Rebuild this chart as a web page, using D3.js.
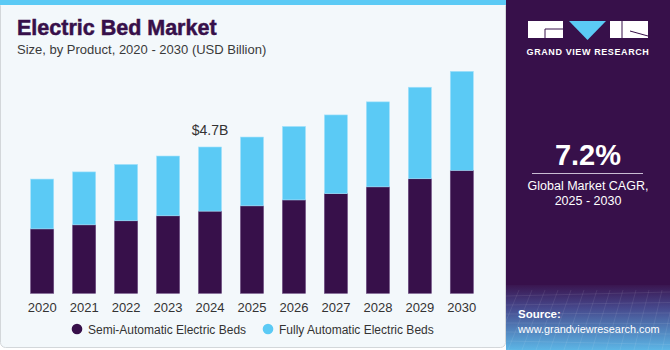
<!DOCTYPE html>
<html><head><meta charset="utf-8">
<script src="https://cdn.jsdelivr.net/npm/d3@7"></script>
<style>body{margin:0;background:#fff}svg{display:block}</style>
</head><body>
<svg id="c" width="670" height="350"></svg>
<script>
const years = ["2020","2021","2022","2023","2024","2025","2026","2027","2028","2029","2030"];
const semiAutomatic = [2.07,2.20,2.33,2.49,2.64,2.81,3.00,3.20,3.42,3.68,3.95];
const fullyAutomatic = [1.60,1.70,1.81,1.92,2.06,2.21,2.36,2.53,2.73,2.94,3.18];
const seriesNames = ["Semi-Automatic Electric Beds","Fully Automatic Electric Beds"];
const annotationYear = "2024";
const annotationText = "$4.7B";
const cagrText = "7.2%";

const purple = "#37104a", blue = "#5bcaf5";
const font = "'Liberation Sans', Arial, sans-serif";
const svg = d3.select("#c");

// left panel
svg.append("rect").attr("x",0.5).attr("y",0.5).attr("width",505).attr("height",347)
  .attr("rx",5).attr("fill","#f3f8fb").attr("stroke","#d3d7da");
svg.append("rect").attr("x",0).attr("y",0).attr("width",506).attr("height",5).attr("fill",blue);

// right panel
const defs = svg.append("defs");
const g1 = defs.append("linearGradient").attr("id","src").attr("x1",0).attr("y1",0).attr("x2",0).attr("y2",1);
g1.append("stop").attr("offset","0%").attr("stop-color","#3a1650");
g1.append("stop").attr("offset","35%").attr("stop-color","#46488c");
g1.append("stop").attr("offset","100%").attr("stop-color","#5cb6e6");
svg.append("rect").attr("x",506).attr("y",0).attr("width",164).attr("height",350).attr("fill",purple);
svg.append("rect").attr("x",506).attr("y",285).attr("width",164).attr("height",65).attr("fill","url(#src)");
const gridG = svg.append("g").attr("stroke","#ffffff").attr("stroke-opacity",0.12).attr("stroke-width",0.7);
for(let i=0;i<14;i++){ gridG.append("line").attr("x1",506+i*13).attr("y1",290).attr("x2",500+i*14-20).attr("y2",350); }
for(let j=0;j<7;j++){ gridG.append("line").attr("x1",506).attr("y1",296+j*9).attr("x2",670).attr("y2",292+j*9+j*1.5); }

// logo
const logo = svg.append("g");
logo.append("rect").attr("x",528).attr("y",21).attr("width",35).attr("height",17).attr("fill","#fff");
logo.append("path").attr("d","M545 29 h18 M545 29 v9").attr("stroke",purple).attr("stroke-width",1).attr("fill","none");
logo.append("path").attr("d","M569 21 L606 21 L587.5 40 Z").attr("fill",blue);
logo.append("rect").attr("x",610).attr("y",21).attr("width",38).attr("height",17).attr("fill","#fff");
logo.append("path").attr("d","M622 21 v17 M630 31 L648 36").attr("stroke",purple).attr("stroke-width",1).attr("fill","none");
svg.append("text").attr("x",588).attr("y",54.5).attr("text-anchor","middle")
  .attr("font-family",font).attr("font-weight","bold").attr("font-size",9).attr("letter-spacing",0.6)
  .attr("fill","#fff").text("GRAND VIEW RESEARCH");

// CAGR
svg.append("text").attr("x",588).attr("y",165).attr("text-anchor","middle").attr("font-family",font)
  .attr("font-weight","bold").attr("font-size",29).attr("fill","#fff").text(cagrText);
svg.append("line").attr("x1",532).attr("x2",643).attr("y1",173.5).attr("y2",173.5).attr("stroke","#c9bcd3").attr("stroke-width",1);
svg.append("text").attr("x",588).attr("y",190).attr("text-anchor","middle").attr("font-family",font)
  .attr("font-size",12.5).attr("fill","#fff").text("Global Market CAGR,");
svg.append("text").attr("x",588).attr("y",205).attr("text-anchor","middle").attr("font-family",font)
  .attr("font-size",12.5).attr("fill","#fff").text("2025 - 2030");

// source
svg.append("text").attr("x",518).attr("y",318).attr("font-family",font).attr("font-weight","bold")
  .attr("font-size",11.5).attr("fill","#fff").text("Source:");
svg.append("text").attr("x",518).attr("y",332.5).attr("font-family",font)
  .attr("font-size",10.9).attr("fill","#fff").text("www.grandviewresearch.com");

// title
svg.append("text").attr("x",17).attr("y",35).attr("font-family",font).attr("font-weight","900")
  .attr("font-size",21.5).attr("fill",purple).attr("stroke",purple).attr("stroke-width",0.5).text("Electric Bed Market");
svg.append("text").attr("x",17).attr("y",54).attr("font-family",font)
  .attr("font-size",13).attr("fill","#3a3a3a").text("Size, by Product, 2020 - 2030 (USD Billion)");

// scales
const x = d3.scaleBand().domain(years).range([21.2,482.8]).paddingInner(0.45).paddingOuter(0.225);
const y = d3.scaleLinear().domain([0,7.5]).range([293.3,293.3-7.5*31.13]);

const data = years.map((yr,i)=>({year:yr, semi:semiAutomatic[i], fully:fullyAutomatic[i]}));
const stack = d3.stack().keys(["semi","fully"])(data);
const colors = [purple, blue];
const strokes = ["#6b4a80","#a6e2fb"];
stack.forEach((layer,li)=>{
  svg.append("g").selectAll("rect").data(layer).join("rect")
    .attr("x",d=>x(d.data.year)).attr("width",x.bandwidth())
    .attr("y",d=>y(d[1])).attr("height",d=>y(d[0])-y(d[1]))
    .attr("fill",colors[li]).attr("stroke",strokes[li]).attr("stroke-width",0.6);
});

// annotation
const ai = years.indexOf(annotationYear);
svg.append("text").attr("x",x(annotationYear)+x.bandwidth()/2).attr("y",y(semiAutomatic[ai]+fullyAutomatic[ai])-12)
  .attr("text-anchor","middle").attr("font-family",font).attr("font-size",14).attr("fill","#333").text(annotationText);

// x axis
const xa = svg.append("g").attr("transform","translate(0,293.3)")
  .call(d3.axisBottom(x).tickSize(0).tickPadding(9));
xa.select(".domain").remove();
xa.selectAll("text").attr("font-family",font).attr("font-size",13).attr("fill","#333");

// legend
const leg = svg.append("g");
const lx = [77, 268];
seriesNames.forEach((n,i)=>{
  leg.append("circle").attr("cx",lx[i]).attr("cy",329).attr("r",5.3).attr("fill",colors[i]);
  leg.append("text").attr("x",lx[i]+11).attr("y",333.5).attr("font-family",font).attr("font-size",12)
    .attr("fill","#333").text(n);
});
</script>
</body></html>
